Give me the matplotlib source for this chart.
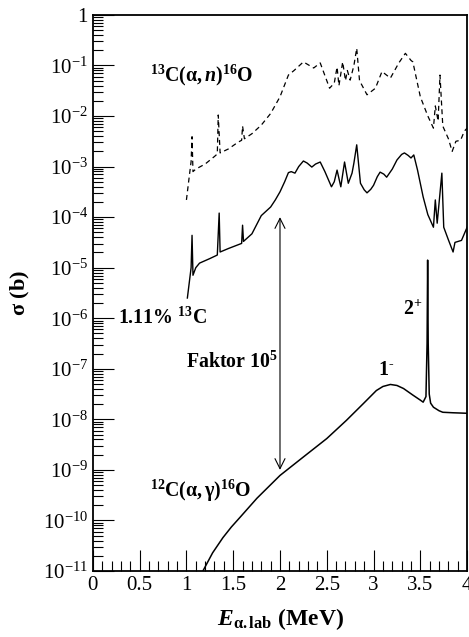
import numpy as np
import matplotlib
matplotlib.use("Agg")
import matplotlib.pyplot as plt
from matplotlib.ticker import MultipleLocator, LogLocator, FixedLocator, FuncFormatter

plt.rcParams['font.family'] = ['Liberation Serif', 'DejaVu Serif']
plt.rcParams['mathtext.fontset'] = 'custom'
plt.rcParams['mathtext.rm'] = 'Liberation Serif'
plt.rcParams['mathtext.it'] = 'Liberation Serif:italic'
plt.rcParams['mathtext.bf'] = 'Liberation Serif:bold'
plt.rcParams['mathtext.bfit'] = 'Liberation Serif:italic:bold'

# 13C(a,n)16O (dashed), energies in MeV, log10 of sigma in barn
e_an = [1.00, 1.03, 1.05, 1.06, 1.07, 1.10, 1.20, 1.30, 1.33, 1.34, 1.36, 1.45,
        1.55, 1.59, 1.60, 1.62, 1.70, 1.80, 1.90, 2.00, 2.09, 2.15, 2.25, 2.36,
        2.43, 2.50, 2.53, 2.58, 2.61, 2.63, 2.67, 2.70, 2.72, 2.75, 2.79, 2.82,
        2.85, 2.93, 3.02, 3.09, 3.18, 3.27, 3.34, 3.40, 3.42, 3.50, 3.58, 3.64,
        3.66, 3.69, 3.71, 3.74, 3.80, 3.84, 3.88, 3.93, 3.97, 4.00]
log_an = [-3.66, -3.2, -2.9, -2.41, -3.1, -3.05, -2.95, -2.8, -2.75, -1.98, -2.73, -2.65,
          -2.52, -2.48, -2.2, -2.45, -2.35, -2.18, -1.95, -1.62, -1.19, -1.1, -0.93, -1.05,
          -0.95, -1.3, -1.45, -1.35, -1.03, -1.4, -0.93, -1.3, -1.1, -1.29, -1.0, -0.66,
          -1.3, -1.58, -1.45, -1.12, -1.25, -0.95, -0.76, -0.9, -0.93, -1.62, -2.0, -2.24,
          -1.8, -2.1, -1.19, -2.2, -2.45, -2.7, -2.5, -2.48, -2.3, -2.24]

# natural 13C content (1.11%), solid
e_nat = [1.01, 1.05, 1.06, 1.07, 1.10, 1.14, 1.25, 1.33, 1.35, 1.36, 1.45, 1.59,
         1.60, 1.61, 1.70, 1.75, 1.80, 1.90, 1.95, 2.00, 2.05, 2.09, 2.12, 2.16,
         2.20, 2.25, 2.29, 2.34, 2.38, 2.43, 2.48, 2.55, 2.58, 2.61, 2.65, 2.69,
         2.73, 2.77, 2.79, 2.82, 2.86, 2.90, 2.93, 2.97, 3.00, 3.04, 3.07, 3.11,
         3.14, 3.20, 3.25, 3.30, 3.33, 3.37, 3.40, 3.43, 3.47, 3.53, 3.58, 3.64,
         3.66, 3.68, 3.73, 3.75, 3.80, 3.85, 3.87, 3.94, 4.00]
log_nat = [-5.60, -5.0, -4.36, -5.15, -5.0, -4.91, -4.82, -4.75, -3.92, -4.69, -4.62, -4.52,
           -4.16, -4.48, -4.33, -4.15, -3.97, -3.8, -3.66, -3.5, -3.3, -3.12, -3.1, -3.13,
           -3.0, -2.89, -2.93, -3.01, -2.95, -2.91, -3.1, -3.4, -3.3, -3.07, -3.4, -2.91,
           -3.33, -3.13, -2.93, -2.57, -3.33, -3.46, -3.52, -3.45, -3.37, -3.2, -3.11, -3.15,
           -3.21, -3.05, -2.87, -2.76, -2.73, -2.78, -2.83, -2.77, -3.07, -3.6, -3.95, -4.2,
           -3.66, -4.12, -3.13, -4.2, -4.45, -4.69, -4.5, -4.46, -4.2]

# 12C(a,g)16O
e_ag = [1.10, 1.176, 1.28, 1.39, 1.48, 1.572, 1.754, 2.00, 2.246, 2.50, 2.71, 2.89,
        3.03, 3.10, 3.18, 3.25, 3.32, 3.42, 3.50, 3.53, 3.56, 3.572, 3.578, 3.584,
        3.595, 3.61, 3.64, 3.70, 3.74, 3.85, 4.00]
log_ag = [-11.45, -11.0, -10.64, -10.34, -10.13, -9.94, -9.56, -9.11, -8.75, -8.38, -8.02, -7.69,
          -7.43, -7.35, -7.31, -7.33, -7.39, -7.52, -7.62, -7.66, -7.55, -6.5, -4.85, -6.5,
          -7.5, -7.68, -7.76, -7.83, -7.86, -7.87, -7.88]

fig = plt.figure(figsize=(4.69, 6.37), dpi=100)
ax = fig.add_axes([0.198, 0.1036, 0.798, 0.873])

ax.plot(e_an, np.power(10.0, log_an), color='black', lw=0.9, dashes=(4, 3))
ax.plot(e_nat, np.power(10.0, log_nat), color='black', lw=1.0)
ax.plot(e_ag, np.power(10.0, log_ag), color='black', lw=1.1)

ax.set_yscale('log')
ax.set_xlim(0, 4)
ax.set_ylim(1e-11, 1)

ax.xaxis.set_major_locator(MultipleLocator(0.5))
ax.xaxis.set_minor_locator(MultipleLocator(0.1))
ax.xaxis.set_major_formatter(FuncFormatter(lambda v, p: '%g' % v))
ax.yaxis.set_major_locator(FixedLocator([10.0 ** k for k in range(-11, 1)]))
ax.yaxis.set_minor_locator(LogLocator(base=10, subs=np.arange(2, 10), numticks=20))

def ylab(v, p):
    k = int(round(np.log10(v)))
    if k == 0:
        return '1'
    return r'10$^{%d}$' % k

ax.yaxis.set_major_formatter(FuncFormatter(ylab))
ax.yaxis.set_minor_formatter(FuncFormatter(lambda v, p: ''))
ax.tick_params(which='both', direction='in', top=False, right=False, labelsize=15, width=0.8)
ax.tick_params(which='major', length=15)
ax.tick_params(which='minor', length=7)
for s in ax.spines.values():
    s.set_linewidth(1.3)

ax.set_ylabel(r'$\mathbf{\sigma}$ (b)', fontsize=16, fontweight='bold', labelpad=8)
ax.set_xlabel(r'$\mathbfit{E}_{\mathbf{\alpha.lab}}$ (MeV)', fontsize=17, fontweight='bold', labelpad=8)

# double arrow: factor 1e5
ax.annotate('', xy=(2.0, 1e-4), xytext=(2.0, 1e-9),
            arrowprops=dict(arrowstyle='<->', color='black', lw=0.8,
                            mutation_scale=18, shrinkA=0, shrinkB=0))

lab = dict(fontsize=14.3, fontweight='bold', color='black')
ax.text(0.61, 0.065, r'$\mathbf{^{13}C(\alpha,}\mathbfit{n}\mathbf{)^{16}O}$', ha='left', va='center', **lab)
ax.text(0.27, 1.0e-6, r'1.11% $\mathbf{^{13}C}$', ha='left', va='center', **lab)
ax.text(1.0, 1.35e-7, r'Faktor 10$\mathbf{^{5}}$', ha='left', va='center', **lab)
ax.text(3.315, 1.45e-6, r'$\mathbf{2^{+}}$', ha='left', va='center', **lab)
ax.text(3.05, 9.3e-8, r'$\mathbf{1^{‐}}$', ha='left', va='center', **lab)
ax.text(0.61, 3.9e-10, r'$\mathbf{^{12}C(\alpha,\gamma)^{16}O}$', ha='left', va='center', **lab)

fig.savefig('out.png', dpi=100)
